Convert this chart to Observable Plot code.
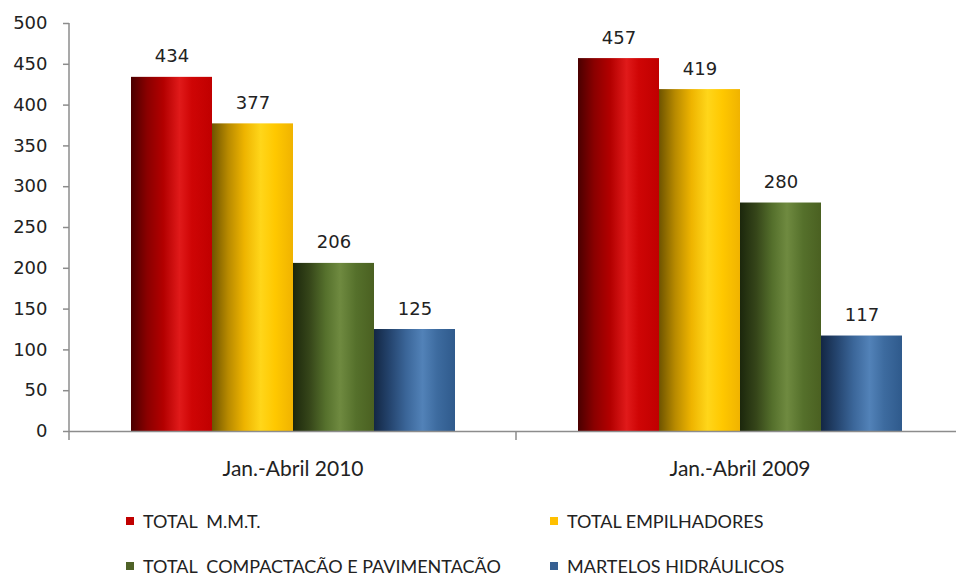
<!DOCTYPE html>
<html>
<head>
<meta charset="utf-8">
<script src="https://cdn.jsdelivr.net/npm/d3@7"></script>
<script src="https://cdn.jsdelivr.net/npm/@observablehq/plot@0.6"></script>
<style>
  html, body { margin: 0; padding: 0; background: #fff; overflow: hidden; }
  #wrap { position: relative; width: 956px; height: 578px; }
  #chart svg { display: block; overflow: hidden; }
  #chart [aria-label^="fx-axis"] text { font-family: Lato, "Liberation Sans", sans-serif; font-size: 21px; fill: #222; }
  #chart [aria-label^="y-axis"] text { font-family: "DejaVu Sans", Verdana, sans-serif; font-size: 18px; fill: #222; }
  .legend { position: absolute; font-family: Lato, "Liberation Sans", sans-serif; font-size: 18px; line-height: 18px; height: 18px; color: #222; white-space: pre; display: flex; align-items: center; }
  .legend .sw { width: 8px; height: 8px; margin-right: 9px; }
</style>
</head>
<body>
<div id="wrap">
  <div id="chart"></div>
  <div id="legend"></div>
</div>
<script>
const groups = ["Jan.-Abril 2010", "Jan.-Abril 2009"];
const series = ["TOTAL  M.M.T.", "TOTAL EMPILHADORES", "TOTAL  COMPACTACÃO E PAVIMENTACÃO", "MARTELOS HIDRÁULICOS"];
const values2010 = [434, 377, 206, 125];
const values2009 = [457, 419, 280, 117];
const yTicks = [0, 50, 100, 150, 200, 250, 300, 350, 400, 450, 500];
const solidColors = ["#c00000", "#ffc000", "#4f6228", "#376092"];
const gradientStops = [
  [["0%", "#4a0000"], ["20%", "#8a0000"], ["40%", "#b30000"], ["60%", "#e01a1a"], ["75%", "#cf0505"], ["100%", "#c00000"]],
  [["0%", "#6e5400"], ["20%", "#b88a00"], ["40%", "#eeb400"], ["60%", "#ffd61a"], ["78%", "#ffc800"], ["100%", "#f0b300"]],
  [["0%", "#1c270c"], ["20%", "#354519"], ["40%", "#55702c"], ["58%", "#6f8a40"], ["78%", "#55702b"], ["100%", "#4a6021"]],
  [["0%", "#132744"], ["20%", "#25456f"], ["40%", "#3b6699"], ["60%", "#5282b8"], ["78%", "#3d6b9f"], ["100%", "#2f5a8c"]]
];

const data = [];
groups.forEach((g, gi) => {
  const vals = gi === 0 ? values2010 : values2009;
  series.forEach((s, si) => data.push({group: g, series: s, value: vals[si]}));
});

const gradIds = series.map((s, i) => "grad" + i);

const chart = Plot.plot({
  width: 956,
  height: 490,
  marginTop: 23,
  marginBottom: 59,
  marginLeft: 69,
  marginRight: -7,
  fx: {domain: groups, padding: 0, label: null, tickSize: 0, tickPadding: 30},
  x: {domain: series, paddingInner: 0, paddingOuter: 0.742, axis: null},
  y: {domain: [0, 500], ticks: yTicks, tickSize: 6, tickPadding: 16, label: null, tickFormat: d => String(d)},
  color: {domain: series, range: gradIds.map(id => `url(#${id})`)},
  marks: [
    Plot.barY(data, {fx: "group", x: "series", y: "value", fill: "series", inset: 0}),
    Plot.ruleY([0], {stroke: "#8c8c8c", strokeWidth: 1.5}),
    Plot.text(data, {fx: "group", x: "series", y: "value", text: d => String(d.value), dy: -15, lineAnchor: "bottom", fontSize: 18, fontFamily: "DejaVu Sans, Verdana, sans-serif", fill: "#222"})
  ]
});

// gradients
const ns = "http://www.w3.org/2000/svg";
const defs = document.createElementNS(ns, "defs");
gradientStops.forEach((stops, i) => {
  const lg = document.createElementNS(ns, "linearGradient");
  lg.setAttribute("id", gradIds[i]);
  lg.setAttribute("x1", "0"); lg.setAttribute("x2", "1");
  lg.setAttribute("y1", "0"); lg.setAttribute("y2", "0");
  stops.forEach(([off, col]) => {
    const st = document.createElementNS(ns, "stop");
    st.setAttribute("offset", off);
    st.setAttribute("stop-color", col);
    lg.appendChild(st);
  });
  defs.appendChild(lg);
});
chart.insertBefore(defs, chart.firstChild);

// y axis line and category boundary ticks, placed via the plot's own scales
const fx = chart.scale("fx");
const y = chart.scale("y");
const y0 = y.apply(0), yTop = y.apply(500);
const bounds = groups.map(g => fx.apply(g)).concat([fx.range[1]]);
const g = document.createElementNS(ns, "g");
g.setAttribute("stroke", "#8c8c8c");
g.setAttribute("stroke-width", "1.5");
const axisLine = document.createElementNS(ns, "line");
axisLine.setAttribute("x1", bounds[0]); axisLine.setAttribute("x2", bounds[0]);
axisLine.setAttribute("y1", yTop); axisLine.setAttribute("y2", y0 + 9);
g.appendChild(axisLine);
bounds.slice(1).forEach(bx => {
  const t = document.createElementNS(ns, "line");
  t.setAttribute("x1", bx); t.setAttribute("x2", bx);
  t.setAttribute("y1", y0); t.setAttribute("y2", y0 + 9);
  g.appendChild(t);
});
chart.appendChild(g);
chart.querySelectorAll('[aria-label^="y-axis"] [stroke], [aria-label^="y-axis"] path, [aria-label^="y-axis"] line').forEach(el => { el.setAttribute("stroke", "#8c8c8c"); el.setAttribute("stroke-width", "1.5"); });

document.getElementById("chart").appendChild(chart);

// legend
const legendPos = [[126, 521], [550, 521], [126, 566], [550, 566]];
const legend = document.getElementById("legend");
series.forEach((s, i) => {
  const item = document.createElement("div");
  item.className = "legend";
  item.style.left = legendPos[i][0] + "px";
  item.style.top = (legendPos[i][1] - 9) + "px";
  const sw = document.createElement("span");
  sw.className = "sw";
  sw.style.background = solidColors[i];
  const tx = document.createElement("span");
  tx.textContent = s;
  item.appendChild(sw); item.appendChild(tx);
  legend.appendChild(item);
});
</script>
</body>
</html>
